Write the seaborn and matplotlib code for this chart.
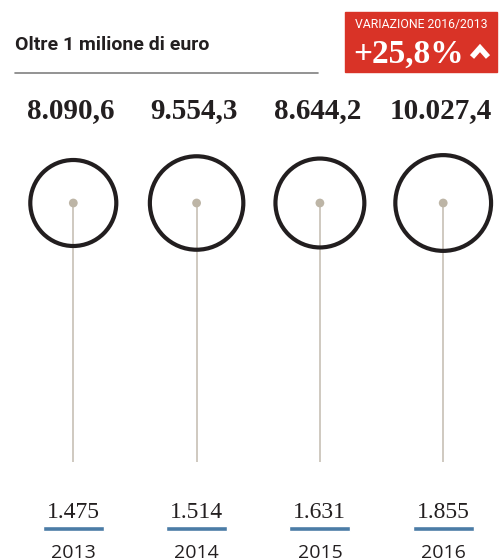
import numpy as np
import pandas as pd
import matplotlib.pyplot as plt
import seaborn as sns
from matplotlib.patches import Rectangle
from matplotlib.lines import Line2D

# Data
years = ["2013", "2014", "2015", "2016"]
amounts = [8090.6, 9554.3, 8644.2, 10027.4]
amount_labels = ["8.090,6", "9.554,3", "8.644,2", "10.027,4"]
counts = [1475, 1514, 1631, 1855]
count_labels = ["1.475", "1.514", "1.631", "1.855"]
title = "Oltre 1 milione di euro"
change_label = "VARIAZIONE 2016/2013"
change_value = "+25,8%"

df = pd.DataFrame({"year": years, "amount": amounts, "count": counts})
df["pos"] = np.arange(len(df))

sns.set_style("white")
plt.rcParams["font.family"] = ["Roboto", "DejaVu Sans"]

W, H = 503, 560
fig = plt.figure(figsize=(W / 100, H / 100), dpi=100)
ax = fig.add_axes([0, 0, 1, 1])
step = 123.3
ax.set_xlim(-73.3 / step, (W - 73.3) / step)
ax.set_ylim(H, 0)
ax.axis("off")

circle_y = 203
# circle area proportional to amount (first circle ~86 px across)
base_d = 86 * 0.72
df["s"] = base_d ** 2 * df["amount"] / df["amount"].iloc[0]
df["cy"] = circle_y

ax.vlines(df["pos"], circle_y, 462, color="#cbc5bb", lw=1.3, zorder=1)
sns.scatterplot(data=df, x="pos", y="cy", s=df["s"], marker="o",
                facecolors="none", edgecolor="#221e1f", linewidth=3.0,
                ax=ax, legend=False, zorder=3)
sns.scatterplot(data=df, x="pos", y="cy", s=40, color="#bdb5a6",
                edgecolor="none", ax=ax, legend=False, zorder=2)

# top values
for p, lab in zip(df["pos"], amount_labels):
    ax.text(p - 0.02, 118, lab, ha="center", va="baseline", fontsize=21,
            fontweight="bold", family="Liberation Serif", color="#231f20")

# bottom counts with blue underline
ax.bar(df["pos"], height=5, bottom=526, width=0.495, color="#4b7ca6", zorder=2)
for p, lab, yr in zip(df["pos"], count_labels, years):
    ax.text(p, 518, lab, ha="center", va="baseline", fontsize=17,
            family="Liberation Serif", color="#231f20")
    ax.text(p, 558, yr, ha="center", va="baseline", fontsize=14,
            family="Open Sans", color="#231f20")

# title and rule
fig.text(15 / W, 1 - 50 / H, title, fontsize=14, fontweight="bold",
         color="#231f20", va="baseline")
fig.add_artist(Line2D([15 / W, 318 / W], [1 - 73 / H, 1 - 73 / H],
                      color="#808080", lw=1.2))

# red box
fig.add_artist(Rectangle((345 / W, 1 - 72 / H), 152 / W, 60 / H,
                         color="#d93327", transform=fig.transFigure))
fig.text(421 / W, 1 - 28 / H, change_label, ha="center", va="baseline",
         fontsize=8.8, color="white")
fig.text(353 / W, 1 - 63 / H, change_value, ha="left", va="baseline",
         fontsize=24, fontweight="bold", family="Liberation Serif", color="white")
fig.add_artist(Line2D([472 / W, 480 / W, 488 / W],
                      [1 - 57 / H, 1 - 48 / H, 1 - 57 / H],
                      color="white", lw=4.0, solid_capstyle="butt",
                      solid_joinstyle="miter"))

fig.savefig("out.png", dpi=100)
